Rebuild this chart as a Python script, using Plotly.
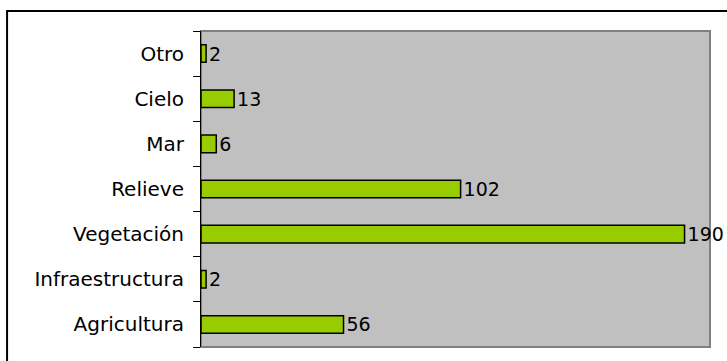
import plotly.graph_objects as go

categories = ["Agricultura", "Infraestructura", "Vegetación", "Relieve", "Mar", "Cielo", "Otro"]
values = [56, 2, 190, 102, 6, 13, 2]

FONT = "DejaVu Sans"
FSIZE = 20

fig = go.Figure(
    go.Bar(
        x=values,
        y=categories,
        orientation="h",
        marker=dict(color="#99CC00", line=dict(color="#000000", width=1.5)),
        texttemplate="%{x}",
        textposition="outside",
        constraintext="none",
        textfont=dict(family=FONT, size=19, color="#000000"),
        cliponaxis=False,
        hoverinfo="skip",
    )
)

fig.update_layout(
    width=727,
    height=361,
    margin=dict(l=201, r=17, t=31, b=14),
    paper_bgcolor="#FFFFFF",
    plot_bgcolor="#C0C0C0",
    bargap=0.61,
    showlegend=False,
    font=dict(family=FONT, size=FSIZE, color="#000000"),
    xaxis=dict(range=[0, 200], visible=False, fixedrange=True),
    yaxis=dict(
        categoryorder="array",
        categoryarray=categories,
        showline=True,
        linecolor="#000000",
        linewidth=1,
        ticks="outside",
        tickson="boundaries",
        ticklen=7,
        tickcolor="#000000",
        tickwidth=1,
        showgrid=False,
        fixedrange=True,
        tickfont=dict(family=FONT, size=FSIZE, color="#000000"),
        ticklabelstandoff=12,
    ),
    shapes=[
        # plot-area frame (grey)
        dict(type="rect", xref="paper", yref="paper", x0=0, y0=0, x1=1, y1=1,
             line=dict(color="#808080", width=2), layer="below"),
        # outer chart frame (black)
        dict(type="rect", xref="paper", yref="paper", x0=-0.381, y0=-0.2, x1=1.2, y1=1.063,
             line=dict(color="#000000", width=2), layer="above"),
    ],
)

fig.write_html(
    "out.html",
    config={"displayModeBar": False, "staticPlot": True},
    post_script="document.body.style.margin='0px';",
)
